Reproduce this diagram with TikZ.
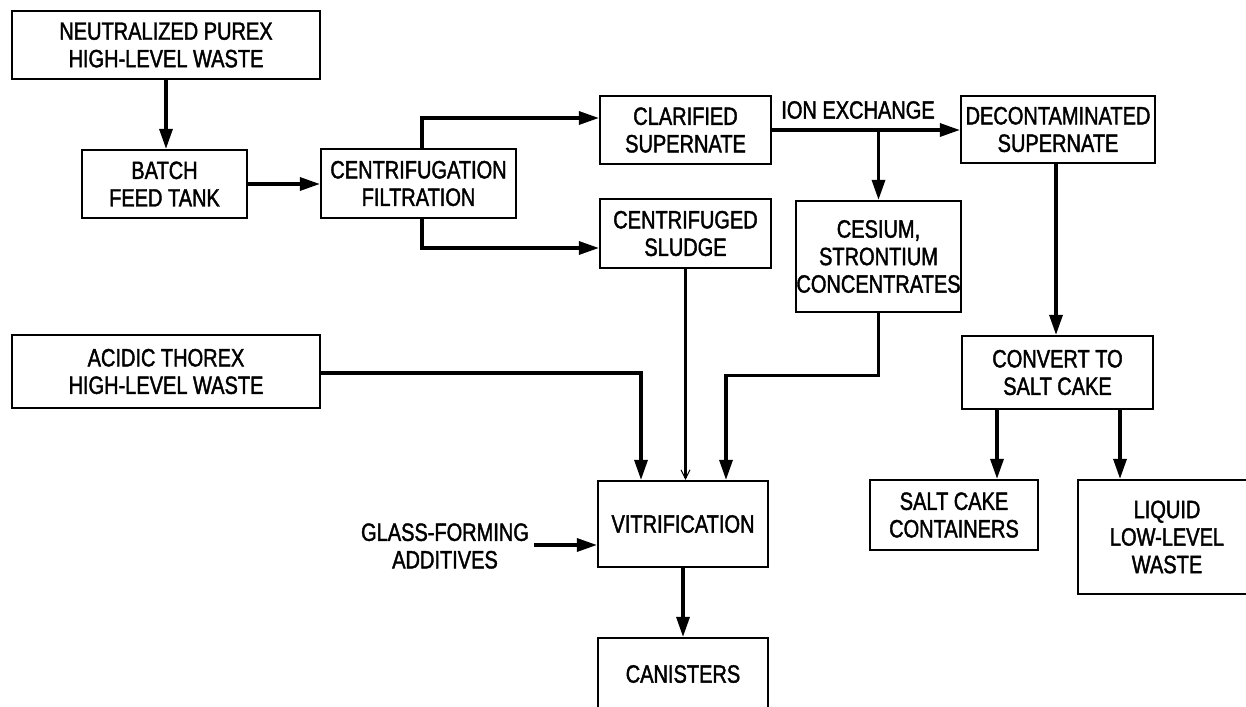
\documentclass[tikz,border=0pt]{standalone}
\usepackage{fontspec}
\setmainfont{Liberation Sans}[FakeStretch=0.8, FakeBold=1.6]
\usetikzlibrary{arrows.meta}
\tikzset{
  box/.style={draw, line width=2.2pt, inner sep=0pt, align=center,
    font=\fontsize{25}{27.5}\selectfont},
  lbl/.style={inner sep=0pt, align=center, font=\fontsize{25}{27.5}\selectfont},
  flow/.style={line width=3.2pt, -{Triangle[length=20pt,width=13pt]}},
  faint/.style={line width=3.2pt, -{Straight Barb[length=9pt,width=9pt,line width=1pt]}}
}
\begin{document}
\begin{tikzpicture}[x=1pt,y=-1pt]
\clip (0,0) rectangle (1246,706);
\fill[white] (0,0) rectangle (1246,706);

% process boxes
\node[box, minimum width=308pt, minimum height=68pt] (purex) at (166,45) {NEUTRALIZED PUREX\\HIGH-LEVEL WASTE};
\node[box, minimum width=165pt, minimum height=68pt] (batch) at (164.5,184) {BATCH\\FEED TANK};
\node[box, minimum width=195pt, minimum height=69pt] (centr) at (418.5,183.5) {CENTRIFUGATION\\FILTRATION};
\node[box, minimum width=171pt, minimum height=68pt] (clar) at (685.5,130) {CLARIFIED\\SUPERNATE};
\node[box, minimum width=171pt, minimum height=69pt] (sludge) at (685.5,233.5) {CENTRIFUGED\\SLUDGE};
\node[box, minimum width=165pt, minimum height=111pt] (cesium) at (878.5,256.5) {CESIUM,\\STRONTIUM\\CONCENTRATES};
\node[box, minimum width=194pt, minimum height=67pt] (decon) at (1058,129.5) {DECONTAMINATED\\SUPERNATE};
\node[box, minimum width=191pt, minimum height=73pt] (convert) at (1057.5,372.5) {CONVERT TO\\SALT CAKE};
\node[box, minimum width=168pt, minimum height=70pt] (scc) at (954,515) {SALT CAKE\\CONTAINERS};
\node[box, minimum width=178pt, minimum height=114pt] (llw) at (1167,537) {LIQUID\\LOW-LEVEL\\WASTE};
\node[box, minimum width=308pt, minimum height=73pt] (thorex) at (166,371.5) {ACIDIC THOREX\\HIGH-LEVEL WASTE};
\node[box, minimum width=170pt, minimum height=86pt] (vitr) at (683,524) {VITRIFICATION};
\node[box, minimum width=170pt, minimum height=72pt] (can) at (683,674) {CANISTERS};

% free labels
\node[lbl] (ionx) at (858,110) {ION EXCHANGE};
\node[lbl] (glass) at (445,546) {GLASS-FORMING\\ADDITIVES};

% connectors
\draw[flow] (purex.south) -- (purex.south |- batch.north);
\draw[flow] (batch.east) -- (batch.east -| centr.west);
\draw[flow] ([xshift=3.5pt]centr.north) |- ([yshift=12pt]clar.west);
\draw[flow] ([xshift=3.5pt]centr.south) |- ([yshift=-14.5pt]sludge.west);
\draw[flow] (clar.east) -- (clar.east -| decon.west);
\coordinate (ionbr) at (cesium.north |- clar.east);
\draw[flow] (ionbr) -- (cesium.north);
\draw[flow] ([xshift=-2pt]decon.south) -- ([xshift=-2pt]decon.south |- convert.north);
\draw[faint] (sludge.south) -- (sludge.south |- vitr.north);
\draw[flow] ([yshift=-1.5pt]thorex.east) -| ([xshift=-42pt]vitr.north);
\coordinate (cbend) at ([yshift=-62pt]cesium.south);
\draw[flow] (cesium.south) -- (cbend) -| ([xshift=43pt]vitr.north);
\coordinate (gstart) at ([xshift=5pt,yshift=1pt]glass.east);
\draw[flow] (gstart) -- (gstart -| vitr.west);
\draw[flow] (vitr.south) -- (can.north);
\draw[flow] ([xshift=-60.5pt]convert.south) -- ([xshift=-60.5pt]convert.south |- scc.north);
\draw[flow] ([xshift=62.5pt]convert.south) -- ([xshift=62.5pt]convert.south |- llw.north);
\end{tikzpicture}
\end{document}
